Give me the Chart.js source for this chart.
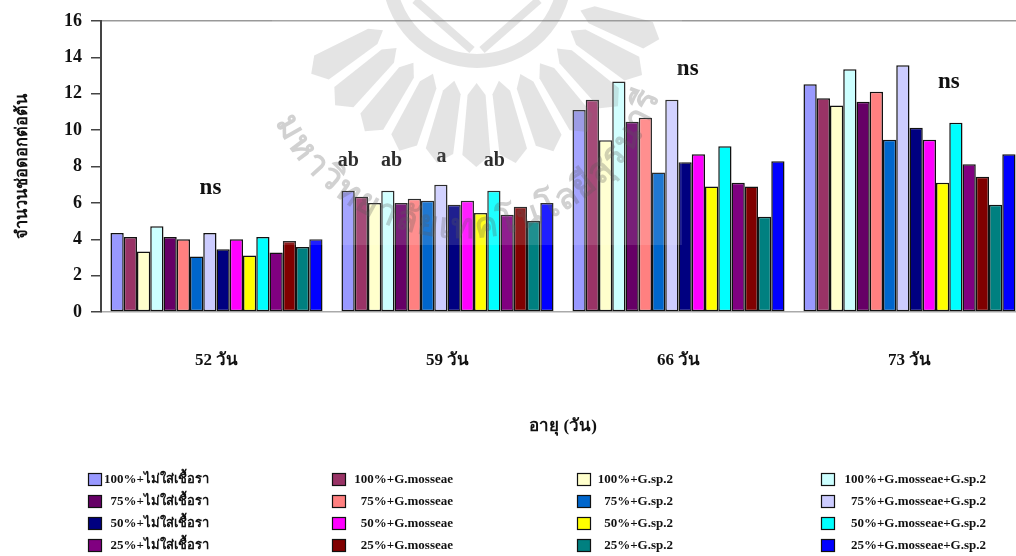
<!DOCTYPE html>
<html>
<head>
<meta charset="utf-8">
<script src="https://cdn.jsdelivr.net/npm/chart.js@4"></script>
<style>
html, body { margin: 0; padding: 0; background: #fff; overflow: hidden; width: 1016px; height: 556px; }
#chart { display: block; }
</style>
</head>
<body>
<canvas id="chart" width="1025" height="556"></canvas>
<script>
const categories = ['52 วัน', '59 วัน', '66 วัน', '73 วัน'];
const tickLabels = [0, 2, 4, 6, 8, 10, 12, 14, 16];

const seriesNames = [
    '100%+ไม่ใส่เชื้อรา', '100%+G.mosseae', '100%+G.sp.2', '100%+G.mosseae+G.sp.2',
    '75%+ไม่ใส่เชื้อรา', '75%+G.mosseae', '75%+G.sp.2', '75%+G.mosseae+G.sp.2',
    '50%+ไม่ใส่เชื้อรา', '50%+G.mosseae', '50%+G.sp.2', '50%+G.mosseae+G.sp.2',
    '25%+ไม่ใส่เชื้อรา', '25%+G.mosseae', '25%+G.sp.2', '25%+G.mosseae+G.sp.2'
];
const seriesColors = [
    '#9999ff', '#993366', '#ffffcc', '#ccffff',
    '#660066', '#ff8080', '#0066cc', '#ccccff',
    '#000080', '#ff00ff', '#ffff00', '#00ffff',
    '#800080', '#800000', '#008080', '#0000ff'
];

const day52 = [4.34, 4.12, 3.33, 4.72, 4.12, 4.0, 3.05, 4.34, 3.45, 4.0, 3.1, 4.12, 3.27, 3.9, 3.57, 4.0];
const day59 = [6.67, 6.34, 6.0, 6.67, 6.0, 6.23, 6.12, 7.0, 5.9, 6.12, 5.44, 6.67, 5.35, 5.79, 5.0, 6.0];
const day66 = [11.1, 11.67, 9.45, 12.67, 10.46, 10.68, 7.67, 11.67, 8.24, 8.68, 6.9, 9.12, 7.11, 6.9, 5.24, 8.29];
const day73 = [12.52, 11.75, 11.36, 13.35, 11.56, 12.11, 9.47, 13.57, 10.13, 9.47, 7.11, 10.4, 8.12, 7.44, 5.9, 8.68];

// significance letters: text, position on category axis, position on value axis
const noteTexts = ['ns', 'ab', 'ab', 'a', 'ab', 'ns', 'ns'];
const noteGroups = [-0.026, 0.571, 0.758, 0.974, 1.203, 2.04, 3.17];
const noteValues = [6.83, 8.3, 8.3, 8.53, 8.3, 13.38, 12.67];

const watermarkText = 'มหาวิทยาลัยเทคโนโลยีสุรนารี';
const serif = '"Liberation Serif", "Times New Roman", serif';

// significance letters above the groups
const notesPlugin = {
    id: 'notes',
    afterDatasetsDraw(chart) {
        const ctx = chart.ctx;
        ctx.save();
        ctx.fillStyle = '#111';
        ctx.textAlign = 'center';
        ctx.textBaseline = 'middle';
        noteTexts.forEach((t, i) => {
            ctx.font = 'bold ' + (t === 'ns' ? 23 : 20) + 'px ' + serif;
            ctx.fillText(t, chart.scales.x.getPixelForValue(noteGroups[i]), chart.scales.y.getPixelForValue(noteValues[i]));
        });
        ctx.restore();
    }
};

// 4 x 4 legend, filled row by row from the datasets
const gridLegend = {
    id: 'gridLegend',
    afterDraw(chart) {
        const ctx = chart.ctx;
        const boxX = [88, 332, 577, 821];
        const textEnd = [209, 453, 673, 986];
        const rowY = [479, 501, 523, 545];
        ctx.save();
        ctx.font = 'bold 13px ' + serif;
        ctx.textAlign = 'right';
        ctx.textBaseline = 'middle';
        chart.data.datasets.forEach((ds, i) => {
            const col = i % 4, row = Math.floor(i / 4);
            ctx.fillStyle = ds.backgroundColor;
            ctx.strokeStyle = '#111';
            ctx.lineWidth = 1.2;
            ctx.fillRect(boxX[col], rowY[row] - 6, 14, 12);
            ctx.strokeRect(boxX[col] + 0.5, rowY[row] - 5.5, 13, 12);
            ctx.fillStyle = '#111';
            ctx.fillText(ds.label, textEnd[col], rowY[row] + 1);
        });
        ctx.restore();
    }
};

// faint university seal laid over the finished chart
const watermark = {
    id: 'watermark',
    afterDraw(chart) {
        const ctx = chart.ctx;
        const cx = 477, cy = -27;
        ctx.save();
        ctx.beginPath();
        ctx.rect(260, 0, 430, 260);
        ctx.clip();
        ctx.fillStyle = 'rgba(255,255,255,0.12)';
        ctx.fillRect(272, 0, 410, 245);
        ctx.fillStyle = 'rgba(120,120,120,0.2)';
        ctx.strokeStyle = 'rgba(120,120,120,0.2)';

        // rays
        for (let a = 20; a <= 160; a += 11.7) {
            ctx.save();
            ctx.translate(cx, cy);
            ctx.rotate((a - 90) * Math.PI / 180);
            ctx.beginPath();
            ctx.moveTo(0, 110);
            ctx.lineTo(9, 122);
            ctx.lineTo(14, 182);
            ctx.lineTo(0, 194);
            ctx.lineTo(-14, 182);
            ctx.lineTo(-9, 122);
            ctx.closePath();
            ctx.fill();
            ctx.restore();
        }

        // ring and the open book inside it
        ctx.lineWidth = 14;
        ctx.beginPath();
        ctx.arc(cx, cy, 88, 0, Math.PI * 2);
        ctx.stroke();
        ctx.lineWidth = 8;
        ctx.beginPath();
        ctx.moveTo(cx - 5, 50);
        ctx.lineTo(cx - 62, 0);
        ctx.moveTo(cx + 5, 50);
        ctx.lineTo(cx + 62, 0);
        ctx.stroke();

        // name of the university along an arc
        const ax = 462, ay = 30, r = 208;
        const start = 154, end = 18;
        const clusters = Array.from(new Intl.Segmenter('th', { granularity: 'grapheme' }).segment(watermarkText), s => s.segment);
        ctx.fillStyle = 'rgba(90,90,90,0.28)';
        ctx.font = 'bold 35px "Noto Sans", sans-serif';
        ctx.textAlign = 'center';
        ctx.textBaseline = 'alphabetic';
        const widths = clusters.map(c => ctx.measureText(c).width);
        const total = widths.reduce((p, w) => p + w, 0);
        let run = 0;
        clusters.forEach((c, i) => {
            const a = start + (end - start) * (run + widths[i] / 2) / total;
            run += widths[i];
            ctx.save();
            ctx.translate(ax + r * Math.cos(a * Math.PI / 180), ay + r * Math.sin(a * Math.PI / 180));
            ctx.rotate((a - 90) * Math.PI / 180);
            ctx.fillText(c, 0, 0);
            ctx.restore();
        });
        ctx.restore();
    }
};

const chart = new Chart(document.getElementById('chart').getContext('2d'), {
    type: 'bar',
    data: {
        labels: categories,
        datasets: seriesNames.map((name, i) => ({
            label: name,
            data: [day52[i], day59[i], day66[i], day73[i]],
            backgroundColor: seriesColors[i],
            borderColor: '#111',
            borderWidth: 1.5,
            borderSkipped: false,
            barPercentage: 1,
            categoryPercentage: 0.918
        }))
    },
    options: {
        responsive: false,
        animation: false,
        layout: { padding: { top: 21, right: 0, left: 0, bottom: 0 } },
        plugins: { legend: { display: false }, tooltip: { enabled: false } },
        scales: {
            x: {
                afterFit: s => { s.height = 244; },
                grid: { display: false, drawTicks: false },
                border: { color: '#aaa', width: 1.5 },
                ticks: { color: '#111', padding: 38, font: { family: serif, weight: 'bold', size: 17 }, maxRotation: 0 },
                title: { display: true, text: 'อายุ (วัน)', color: '#111', font: { family: serif, weight: 'bold', size: 17 }, padding: { top: 0, bottom: 119 } }
            },
            y: {
                min: 0,
                max: 16,
                afterFit: s => { s.width = 101; },
                afterBuildTicks: s => { s.ticks = tickLabels.map(v => ({ value: v })); },
                grid: {
                    color: c => c.tick && c.tick.value === 16 ? '#999' : 'transparent',
                    tickColor: '#444',
                    tickLength: 10,
                    lineWidth: 1.5,
                    drawOnChartArea: true
                },
                border: { color: '#444', width: 2 },
                ticks: { color: '#111', padding: 9, font: { family: serif, weight: 'bold', size: 18 } },
                title: { display: true, text: 'จำนวนช่อดอกต่อต้น', color: '#111', font: { family: serif, weight: 'bold', size: 16.5 }, padding: { top: 13, bottom: 0 } }
            }
        }
    },
    plugins: [notesPlugin, gridLegend, watermark]
});
</script>
</body>
</html>
